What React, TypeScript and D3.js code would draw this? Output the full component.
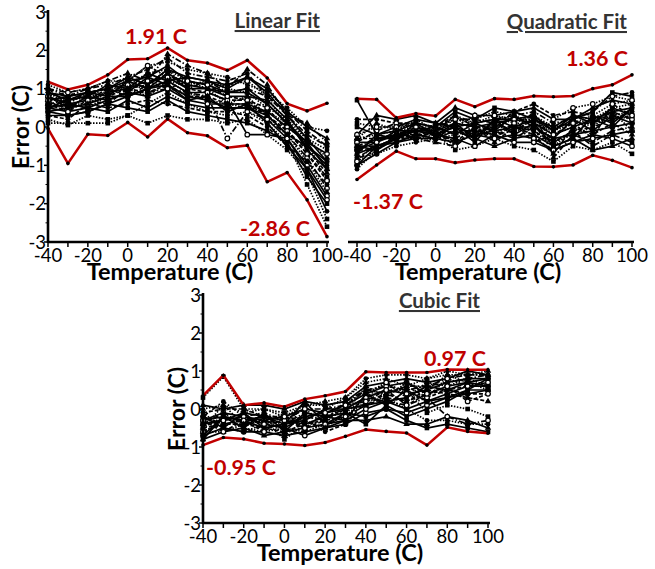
import React from "react";
import * as d3 from "d3";

const temps = [-40, -30, -20, -10, 0, 10, 20, 30, 40, 50, 60, 70, 80, 90, 100];
const yTickValues = [-3, -2, -1, 0, 1, 2, 3];
const xTickLabels = [-40, -20, 0, 20, 40, 60, 80, 100];

// Linear fit
const linearMax = [1.18, 0.98, 1.1, 1.36, 1.76, 1.78, 2.06, 1.74, 1.67, 1.48, 1.74, 1.28, 0.61, 0.42, 0.62];
const linearMin = [-0.04, -0.95, -0.19, -0.22, 0.12, -0.26, 0.21, -0.15, -0.23, -0.54, -0.48, -1.43, -1.19, -1.9, -2.86];
const linearSeries = [
  [0.9, 0.8, 0.9, 1.0, 1.2, 1.3, 1.6, 1.2, 1.1, 0.9, 1.0, 0.6, 0.1, -0.5, -1.0],
  [0.6, 0.5, 0.6, 0.8, 1.0, 1.1, 1.4, 1.0, 0.9, 0.7, 0.7, 0.3, -0.1, -0.7, -1.3],
  [0.7, 0.7, 0.8, 0.9, 1.1, 1.0, 1.2, 1.1, 1.2, 1.0, 0.9, 0.5, 0.2, -0.3, -0.8],
  [0.4, 0.3, 0.4, 0.6, 0.8, 1.0, 1.1, 0.8, 0.7, 0.5, 0.5, 0.2, -0.3, -1.0, -1.8],
  [1.0, 0.9, 1.0, 1.1, 1.3, 1.5, 1.8, 1.4, 1.3, 1.2, 1.4, 0.8, 0.3, -0.2, -0.5],
  [0.2, 0.05, 0.3, 0.2, 0.3, 0.6, 0.9, 0.6, 0.4, 0.3, 0.4, 0.1, -0.4, -1.5, -2.6],
  [0.5, 0.6, 0.5, 0.7, 0.9, 0.8, 1.0, 0.7, 0.6, 0.6, 0.6, 0.4, 0.0, -0.4, -0.7],
  [0.8, 0.6, 0.7, 0.9, 1.0, 1.2, 1.3, 1.0, 1.0, 0.8, 0.8, 0.7, 0.2, -0.6, -1.1],
  [0.3, 0.2, 0.6, 0.5, 0.6, 0.7, 0.6, 0.5, 0.4, 0.4, 0.3, 0.0, -0.5, -0.9, -1.5],
  [0.1, 0.1, 0.1, 0.1, 0.3, 0.1, 0.3, 0.2, 0.2, 0.1, 0.2, -0.2, -0.6, -1.2, -2.4],
  [0.7, 0.8, 0.9, 1.0, 1.3, 1.1, 1.5, 1.3, 1.2, 1.0, 1.3, 1.0, 0.4, 0.0, -0.3],
  [0.6, 0.7, 0.8, 0.7, 0.9, 0.9, 1.0, 0.9, 0.8, -0.3, 0.4, 0.2, -0.2, -0.8, -1.6],
  [1.1, 0.9, 1.0, 1.2, 1.2, 1.6, 1.7, 1.5, 1.4, 1.3, 1.1, 0.9, 0.5, 0.0, -0.1],
  [0.5, 0.4, 0.5, 0.4, 0.7, 0.5, 0.8, 0.6, 0.5, 0.5, 0.5, 0.3, -0.2, -0.5, -0.9],
  [0.8, 0.5, 0.6, 0.8, 0.8, 1.0, 1.2, 0.9, 0.9, 0.7, -0.2, -0.2, -0.3, -1.1, -1.9],
  [0.6, 0.4, 0.7, 0.6, 1.0, 0.9, 1.1, 0.8, 0.8, 0.6, 0.6, 0.3, -0.1, -0.6, -1.2],
  [0.9, 0.6, 0.5, 0.8, 1.1, 1.4, 1.5, 1.2, 1.0, 0.6, 0.5, 0.4, 0.1, -0.3, -0.6],
  [0.3, 0.3, 0.4, 0.6, 0.5, 0.4, 0.7, 0.4, 0.3, 0.2, 0.1, -0.1, -0.4, -1.3, -2.0],
  [1.0, 0.8, 1.0, 1.2, 1.4, 1.2, 1.9, 1.6, 1.4, 1.0, 1.5, 1.1, 0.3, 0.1, -0.4],
  [0.7, 0.4, 0.9, 0.9, 1.2, 1.6, 1.3, 1.2, 1.1, 1.1, 1.2, 0.8, 0.0, -0.4, -1.4],
  [0.9, 0.7, 0.8, 1.1, 1.0, 1.4, 1.2, 1.3, 1.2, 1.1, 1.3, 0.9, 0.3, -0.3, -0.9],
  [0.5, 0.7, 0.9, 0.8, 1.2, 1.0, 1.4, 1.1, 1.0, 0.9, 0.9, 0.6, 0.1, -0.4, -1.1],
  [0.8, 0.9, 0.7, 1.0, 1.1, 1.2, 1.0, 1.2, 1.1, 0.8, 0.7, 0.5, -0.1, -0.7, -1.4],
  [0.6, 0.6, 0.6, 0.9, 1.0, 0.8, 1.2, 0.9, 0.7, 0.6, 0.8, 0.3, -0.2, -0.9, -1.7],
  [0.4, 0.5, 0.8, 0.7, 0.9, 1.3, 1.1, 0.7, 0.8, 0.4, 0.6, 0.1, -0.5, -1.1, -2.2],
  [1.0, 0.6, 0.9, 1.0, 0.8, 1.1, 1.5, 1.0, 1.2, 0.9, 1.0, 0.8, 0.4, -0.1, -0.5],
];

// Quadratic fit
const quadMax = [0.74, 0.72, 0.24, 0.35, 0.29, 0.72, 0.53, 0.74, 0.72, 0.81, 0.79, 0.81, 1.0, 1.1, 1.36];
const quadMin = [-1.37, -0.99, -0.63, -0.83, -0.83, -0.93, -0.86, -0.83, -0.83, -1.03, -1.04, -0.99, -0.74, -0.87, -1.06];
const quadSeries = [
  [-0.6, -0.4, -0.2, -0.1, -0.1, 0.1, 0.0, 0.1, 0.2, 0.1, -0.2, 0.0, 0.2, 0.4, 0.5],
  [-0.8, -0.5, -0.3, -0.2, -0.2, -0.1, -0.1, 0.0, 0.0, -0.1, -0.4, -0.1, 0.0, 0.2, 0.3],
  [-0.3, -0.2, -0.1, 0.0, 0.0, 0.2, 0.1, 0.3, 0.1, 0.3, 0.0, 0.1, 0.3, 0.6, 0.7],
  [-1.0, -0.7, -0.4, -0.3, -0.3, -0.4, -0.2, -0.3, -0.2, -0.3, -0.6, -0.4, -0.3, -0.2, -0.1],
  [-0.5, -0.3, -0.2, 0.0, -0.1, 0.3, 0.1, 0.2, 0.3, 0.4, 0.1, 0.2, 0.4, 0.8, 0.9],
  [0.1, 0.0, 0.0, 0.1, 0.0, 0.2, 0.2, 0.4, 0.3, 0.1, -0.1, 0.1, 0.2, 0.3, 0.2],
  [-0.4, -0.4, -0.1, -0.1, -0.2, 0.0, -0.2, -0.1, 0.0, 0.0, -0.3, -0.2, -0.1, 0.0, 0.1],
  [-0.2, 0.3, 0.2, 0.3, 0.1, 0.5, 0.3, 0.3, 0.4, 0.5, 0.2, 0.2, 0.5, 0.7, 0.6],
  [0.2, 0.2, 0.1, 0.1, 0.0, 0.3, 0.0, 0.0, 0.4, 0.6, 0.3, 0.4, 0.3, 0.2, 0.4],
  [-0.9, -0.6, -0.3, -0.3, -0.2, -0.6, -0.5, -0.3, -0.5, -0.6, -0.9, -0.5, -0.6, -0.4, -0.7],
  [-0.7, -0.5, -0.4, -0.2, -0.3, -0.1, -0.3, -0.5, -0.3, -0.2, -0.5, -0.3, -0.6, -0.5, -0.3],
  [-0.4, -0.1, 0.1, 0.0, -0.1, 0.2, 0.2, 0.1, -0.1, 0.2, 0.0, 0.1, 0.1, 0.4, 0.2],
  [-1.1, -0.6, -0.2, -0.2, -0.3, -0.2, -0.1, -0.2, 0.1, -0.1, -0.5, -0.1, 0.1, 0.3, 0.4],
  [0.0, -0.2, 0.0, 0.2, 0.1, 0.0, 0.1, 0.2, 0.2, 0.3, -0.1, 0.2, 0.4, 0.9, 0.8],
  [-0.6, -0.3, -0.3, 0.0, -0.2, -0.3, -0.5, -0.2, -0.4, -0.4, -0.6, -0.4, -0.2, -0.3, -0.5],
  [-0.3, -0.3, -0.2, -0.2, -0.1, -0.4, 0.0, -0.4, 0.0, -0.2, -0.7, 0.0, -0.2, 0.1, -0.2],
  [-0.8, -0.7, -0.5, -0.4, -0.3, 0.1, -0.3, 0.0, 0.2, 0.2, -0.2, 0.0, 0.2, 0.5, 0.6],
  [0.7, -0.2, -0.1, 0.1, 0.0, 0.4, 0.2, 0.5, 0.4, 0.2, 0.0, 0.3, 0.1, 0.5, 0.3],
  [-0.5, -0.5, -0.3, -0.3, -0.4, -0.5, -0.1, -0.2, -0.1, 0.4, -0.8, -0.2, -0.4, -0.1, 0.0],
  [-0.2, 0.0, 0.0, 0.0, -0.1, 0.0, 0.3, 0.3, 0.2, -0.3, 0.2, 0.5, 0.6, 0.8, 0.7],
  [-0.7, -0.2, -0.3, -0.1, 0.0, -0.2, 0.1, -0.1, 0.3, 0.0, -0.3, 0.2, -0.1, 0.3, 0.1],
  [-0.5, -0.6, -0.3, 0.1, -0.2, 0.0, -0.4, 0.2, -0.2, 0.1, -0.5, -0.3, 0.3, 0.1, 0.5],
  [-0.9, -0.4, -0.1, -0.3, -0.1, -0.5, 0.0, -0.3, 0.1, -0.4, -0.2, 0.1, -0.3, 0.6, 0.3],
  [-0.3, 0.1, -0.1, 0.2, -0.1, 0.3, -0.2, 0.1, -0.2, 0.3, -0.4, -0.2, 0.0, 0.4, -0.1],
  [-1.0, -0.5, -0.3, -0.1, -0.2, 0.1, -0.3, 0.2, 0.0, 0.2, -0.1, 0.3, 0.2, 0.0, 0.5],
  [-0.6, -0.6, -0.2, -0.3, -0.3, -0.3, 0.0, -0.1, -0.3, 0.0, -0.4, -0.1, -0.5, -0.2, -0.4],
];

// Cubic fit
const cubicMax = [0.35, 0.89, 0.1, 0.16, 0.06, 0.26, 0.35, 0.46, 0.98, 0.96, 0.96, 0.96, 1.04, 1.03, 1.03];
const cubicMin = [-0.95, -0.75, -0.79, -0.9, -0.92, -0.96, -0.88, -0.72, -0.54, -0.59, -0.63, -0.95, -0.48, -0.59, -0.64];
const cubicSeries = [
  [-0.3, -0.2, -0.3, -0.2, -0.4, -0.2, -0.1, 0.0, 0.3, 0.5, 0.4, 0.5, 0.7, 0.8, 0.8],
  [-0.5, -0.4, -0.4, -0.5, -0.6, -0.4, -0.3, -0.2, 0.1, 0.3, 0.2, 0.4, 0.5, 0.6, 0.7],
  [0.0, 0.1, -0.1, 0.0, -0.2, 0.1, 0.2, 0.3, 0.7, 0.8, 0.6, 0.8, 0.9, 0.9, 1.0],
  [-0.7, -0.5, -0.6, -0.6, -0.7, -0.6, -0.5, -0.4, -0.1, 0.0, -0.1, 0.1, 0.3, 0.4, 0.5],
  [-0.2, 0.2, -0.2, -0.1, -0.3, 0.0, 0.0, 0.1, 0.5, 0.6, 0.5, 0.6, 0.8, 0.9, 0.9],
  [0.3, 0.85, 0.0, 0.0, -0.1, 0.1, 0.1, 0.2, 0.4, 0.7, 0.3, 0.7, 0.6, 0.8, 0.6],
  [-0.4, -0.3, -0.2, -0.4, -0.5, -0.7, -0.5, -0.3, 0.0, 0.2, 0.0, 0.2, 0.4, 0.6, 0.6],
  [-0.8, -0.6, -0.5, -0.7, -0.6, -0.5, -0.4, -0.3, -0.3, -0.2, -0.4, -0.4, -0.2, -0.3, -0.5],
  [-0.1, 0.0, 0.0, -0.2, -0.2, -0.3, -0.6, -0.4, 0.2, 0.4, 0.6, 0.3, 0.5, 0.4, 0.4],
  [-0.6, -0.6, -0.4, -0.3, -0.8, -0.4, -0.2, -0.1, 0.3, 0.5, 0.5, -0.1, 0.1, 0.0, -0.2],
  [0.1, 0.0, 0.1, 0.1, 0.0, 0.2, 0.1, 0.2, 0.6, 0.7, 0.8, 0.7, 0.8, 1.0, 0.9],
  [-0.2, -0.4, -0.3, -0.3, -0.4, -0.1, -0.2, 0.0, 0.3, 0.2, 0.1, 0.3, -0.2, -0.4, -0.3],
  [-0.5, -0.2, -0.5, -0.6, -0.5, -0.6, -0.4, -0.2, 0.2, 0.3, 0.0, -0.3, -0.3, -0.4, -0.4],
  [-0.4, -0.3, -0.1, -0.2, -0.3, -0.4, -0.2, -0.1, -0.2, 0.0, -0.3, -0.5, -0.4, -0.5, -0.6],
  [-0.3, -0.1, -0.2, -0.3, -0.2, 0.0, -0.1, 0.1, 0.4, 0.6, 0.7, 0.4, 0.6, 0.7, 0.8],
  [-0.6, -0.4, -0.3, -0.2, -0.3, -0.5, -0.3, 0.0, 0.1, 0.4, 0.2, 0.5, 0.4, 0.3, 0.2],
  [-0.1, -0.5, -0.6, -0.4, -0.1, -0.3, 0.0, 0.3, 0.8, 0.9, 0.9, 0.8, 1.0, 0.9, 0.9],
  [-0.8, -0.2, -0.3, -0.5, -0.4, 0.2, -0.4, -0.1, -0.4, 0.1, -0.2, 0.0, 0.2, 0.5, 0.5],
  [-0.4, -0.1, -0.4, -0.3, -0.5, -0.2, -0.3, 0.2, 0.5, 0.4, 0.6, 0.6, 0.7, 0.8, 0.9],
  [-0.6, -0.3, -0.2, -0.4, -0.3, 0.0, -0.4, -0.2, 0.3, 0.7, 0.4, 0.3, 0.8, 0.6, 0.7],
  [-0.2, -0.5, -0.1, -0.5, -0.4, -0.3, 0.0, 0.0, 0.1, 0.2, 0.3, 0.6, 0.5, 0.7, 0.6],
  [-0.7, -0.2, -0.5, -0.1, -0.6, -0.1, -0.2, -0.3, 0.4, 0.1, 0.5, 0.2, 0.3, 0.5, 0.8],
  [-0.3, -0.6, -0.3, -0.6, -0.2, -0.5, -0.1, 0.1, 0.2, 0.5, 0.1, 0.4, 0.6, 0.2, 0.4],
  [-0.5, 0.1, -0.4, -0.2, -0.7, -0.3, -0.5, -0.1, 0.6, 0.3, 0.7, 0.5, 0.9, 0.7, 0.5],
];

const FONT = "Lato, 'Open Sans', sans-serif";
const RED = "#c00000";
const dashes = ["", "4,2", "1.5,1.5", "", "6,2,1.5,2", "1.5,1.5", ""];
const markerKinds = ["circle", "square", "triangle", "ocircle", "circle", "square", "ocircle", "triangle"];

function Marker({ kind, x, y }: { kind: string; x: number; y: number }) {
  if (kind === "square") return <rect x={x - 2.3} y={y - 2.3} width={4.6} height={4.6} fill="#000" />;
  if (kind === "triangle")
    return <path d={d3.symbol(d3.symbolTriangle, 18)() as string} transform={`translate(${x},${y})`} fill="#000" />;
  if (kind === "ocircle") return <circle cx={x} cy={y} r={2.3} fill="#fff" stroke="#000" strokeWidth={1.2} />;
  return <circle cx={x} cy={y} r={2.4} fill="#000" />;
}

type PanelProps = {
  title: string;
  x0: number;
  x1: number;
  yTop: number;
  yBottom: number;
  showY: boolean;
  series: number[][];
  maxVals: number[];
  minVals: number[];
  maxLabel: string;
  minLabel: string;
  maxLabelPos: [number, number];
  minLabelPos: [number, number];
  titlePos: [number, number];
  yLabelX: number;
  xLabelX: number;
};

function Panel(p: PanelProps) {
  const x = d3.scaleLinear().domain([-40, 100]).range([p.x0, p.x1]);
  const y = d3.scaleLinear().domain([-3, 3]).range([p.yBottom, p.yTop]);
  const line = d3
    .line<number>()
    .x((_, i) => x(temps[i]))
    .y((d) => y(d));
  const minorY = d3.range(-2.5, 3, 1);
  const axisLeftX = p.showY ? p.x0 : p.x0 - 9;
  return (
    <g>
      {p.series.map((s, i) => (
        <g key={i}>
          <path
            d={line(s) as string}
            fill="none"
            stroke="#000"
            strokeWidth={1.7}
            strokeDasharray={dashes[i % dashes.length] || undefined}
          />
          {s.map((v, j) => (
            <Marker key={j} kind={markerKinds[i % markerKinds.length]} x={x(temps[j])} y={y(v)} />
          ))}
        </g>
      ))}
      {[p.maxVals, p.minVals].map((s, i) => (
        <g key={"r" + i}>
          <path d={line(s) as string} fill="none" stroke={RED} strokeWidth={2.5} />
          {s.map((v, j) => (
            <circle key={j} cx={x(temps[j])} cy={y(v)} r={1.8} fill="#000" />
          ))}
        </g>
      ))}
      <line x1={axisLeftX} x2={p.x1 + 2} y1={p.yBottom} y2={p.yBottom} stroke="#000" strokeWidth={2.6} />
      {temps.map((t) => (
        <line key={t} x1={x(t)} x2={x(t)} y1={p.yBottom} y2={p.yBottom + 5} stroke="#000" strokeWidth={1.5} />
      ))}
      {xTickLabels.map((t) => (
        <text key={t} x={x(t)} y={p.yBottom + 20} textAnchor="middle" fontFamily={FONT} fontSize={18.5} fill="#000">
          {t}
        </text>
      ))}
      <text
        x={p.xLabelX}
        y={p.yBottom + 38}
        textAnchor="middle"
        fontFamily={FONT}
        fontWeight="bold"
        fontSize={23.5}
        fill="#000"
      >
        Temperature (C)
      </text>
      {p.showY && (
        <g>
          <line x1={p.x0} x2={p.x0} y1={p.yTop - 2} y2={p.yBottom + 1} stroke="#000" strokeWidth={2.6} />
          {yTickValues.map((v) => (
            <line key={v} x1={p.x0 - 4} x2={p.x0} y1={y(v)} y2={y(v)} stroke="#000" strokeWidth={1.5} />
          ))}
          {minorY.map((v) => (
            <line key={v} x1={p.x0 - 2.5} x2={p.x0} y1={y(v)} y2={y(v)} stroke="#000" strokeWidth={1} />
          ))}
          {yTickValues.map((v) => (
            <text
              key={v}
              x={p.x0 - 2}
              y={y(v) + 6.5}
              textAnchor="end"
              fontFamily={FONT}
              fontSize={18.5}
              fill="#000"
            >
              {v}
            </text>
          ))}
          <text
            transform={`translate(${p.yLabelX},${(p.yTop + p.yBottom) / 2}) rotate(-90)`}
            textAnchor="middle"
            fontFamily={FONT}
            fontWeight="bold"
            fontSize={23}
            fill="#000"
          >
            Error (C)
          </text>
        </g>
      )}
      <text
        x={p.titlePos[0]}
        y={p.titlePos[1]}
        textAnchor="end"
        fontFamily={FONT}
        fontWeight="bold"
        fontSize={20.5}
        fill="#333"
        textDecoration="underline"
      >
        {p.title}
      </text>
      <text x={p.maxLabelPos[0]} y={p.maxLabelPos[1]} textAnchor="middle" fontFamily={FONT} fontWeight="bold" fontSize={21.5} fill={RED}>
        {p.maxLabel}
      </text>
      <text x={p.minLabelPos[0]} y={p.minLabelPos[1]} textAnchor="middle" fontFamily={FONT} fontWeight="bold" fontSize={21.5} fill={RED}>
        {p.minLabel}
      </text>
    </g>
  );
}

export default function App() {
  return (
    <svg width={655} height={569} style={{ position: "absolute", left: 0, top: 0, background: "#fff" }}>
      <Panel
        title="Linear Fit"
        x0={48}
        x1={327}
        yTop={12}
        yBottom={242}
        showY={true}
        series={linearSeries}
        maxVals={linearMax}
        minVals={linearMin}
        maxLabel="1.91 C"
        minLabel="-2.86 C"
        maxLabelPos={[156, 44]}
        minLabelPos={[275, 236]}
        titlePos={[320, 28]}
        yLabelX={29}
        xLabelX={170}
      />
      <Panel
        title="Quadratic Fit"
        x0={357}
        x1={632}
        yTop={12}
        yBottom={242}
        showY={false}
        series={quadSeries}
        maxVals={quadMax}
        minVals={quadMin}
        maxLabel="1.36 C"
        minLabel="-1.37 C"
        maxLabelPos={[597, 66]}
        minLabelPos={[388, 209]}
        titlePos={[627, 29]}
        yLabelX={0}
        xLabelX={478}
      />
      <Panel
        title="Cubic Fit"
        x0={203}
        x1={488}
        yTop={295}
        yBottom={523}
        showY={true}
        series={cubicSeries}
        maxVals={cubicMax}
        minVals={cubicMin}
        maxLabel="0.97 C"
        minLabel="-0.95 C"
        maxLabelPos={[455, 366]}
        minLabelPos={[241, 475]}
        titlePos={[480, 308]}
        yLabelX={185}
        xLabelX={340}
      />
    </svg>
  );
}
